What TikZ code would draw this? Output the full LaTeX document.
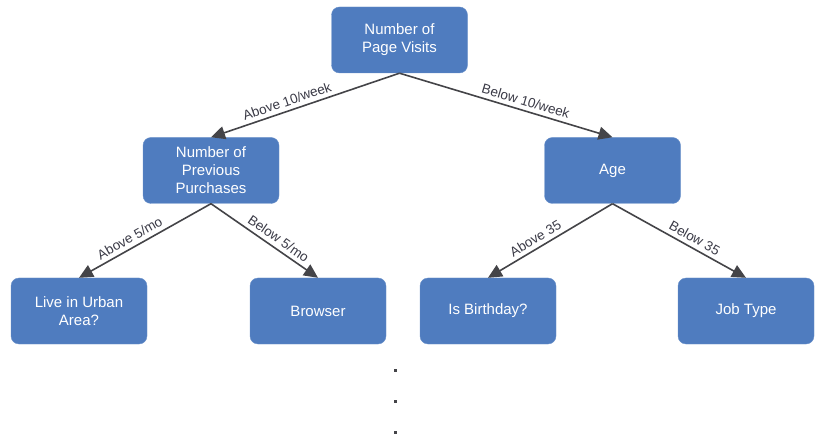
\documentclass[tikz,border=0pt]{standalone}
\usepackage{fontspec}
\setmainfont{Liberation Sans}
\usetikzlibrary{arrows.meta}
\definecolor{boxblue}{RGB}{79,124,191}
\definecolor{linegray}{RGB}{68,68,72}
\definecolor{labelgray}{RGB}{58,58,70}
\tikzset{
  split/.style={rectangle, rounded corners=8pt, fill=boxblue, draw=boxblue!85!white,
    minimum width=136pt, minimum height=66pt, text=white, align=center,
    font=\fontsize{15}{18}\selectfont},
  branch/.style={draw=linegray, line width=1.6pt, -{Triangle[length=14pt,width=13pt]}},
  cond/.style={pos=0.58, above, sloped, inner sep=4pt, text=labelgray,
    font=\fontsize{13.5}{16}\selectfont}
}
\begin{document}
\begin{tikzpicture}[x=1pt, y=-1pt]
  \useasboundingbox (0,0) rectangle (824,435);

  \node [split] (visits) at (399.5,40) {Number of\\Page Visits};
  \node [split] (purchases) at (211,170.5) {Number of\\Previous\\Purchases};
  \node [split] (age) at (612.5,170.5) {Age};

  \node [split] (urban) at (79,311) {Live in Urban\\Area?};
  \node [split] (browser) at (318,311) {Browser};
  \node [split] (birthday) at (488,311) {Is Birthday?};
  \node [split] (jobtype) at (746,311) {Job Type};

  \draw [branch] (visits.south) -- (purchases.north) node [cond] {Above 10/week};
  \draw [branch] (visits.south) -- (age.north) node [cond] {Below 10/week};
  \draw [branch] (purchases.south) -- (urban.north) node [cond] {Above 5/mo};
  \draw [branch] (purchases.south) -- (browser.north) node [cond] {Below 5/mo};
  \draw [branch] (age.south) -- (birthday.north) node [cond] {Above 35};
  \draw [branch] (age.south) -- (jobtype.north) node [cond] {Below 35};

  % more splits below
  \foreach \y in {370,401,432}
    \fill [linegray] (393.5,\y-1.5) rectangle ++(3,3);
\end{tikzpicture}
\end{document}
